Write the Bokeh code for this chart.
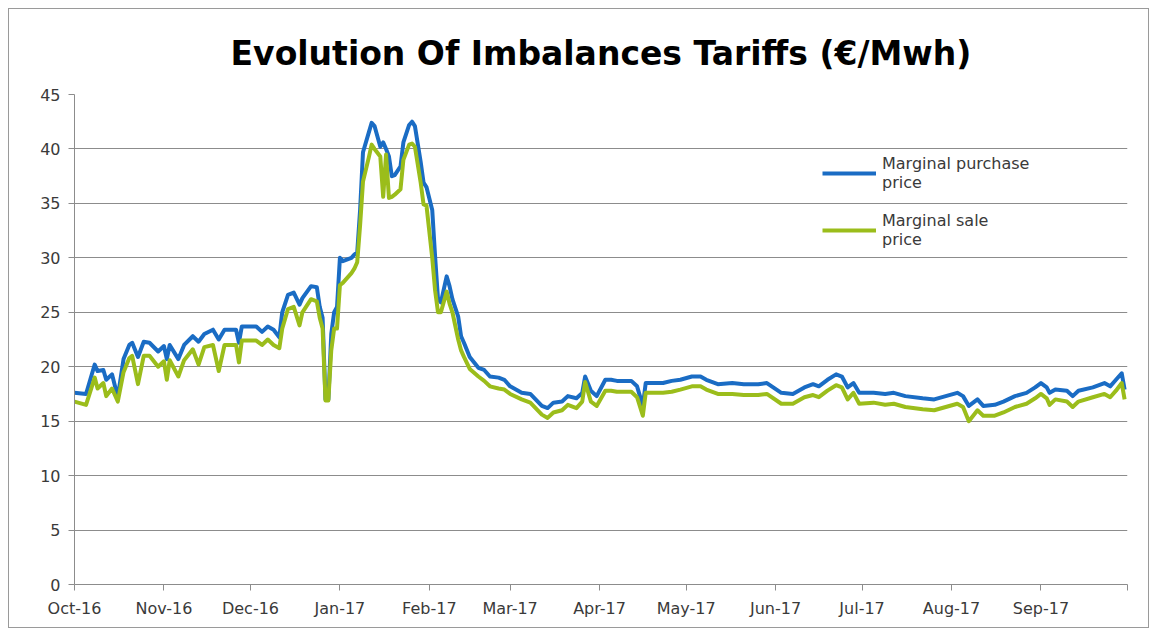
import pandas as pd
from bokeh.plotting import figure
from bokeh.models import FixedTicker, Range1d, Legend, LegendItem, ColumnDataSource
from bokeh.embed import file_html
from bokeh.resources import INLINE

# ---------------- data ----------------
start_date = "2016-10-01"
day_offset = [0, 4, 7, 8, 10, 11, 13, 15, 17, 19, 20, 22, 24, 26, 29, 31, 32, 33, 36, 38,
              41, 43, 45, 48, 50, 52, 56, 57, 58, 63, 65, 67, 69, 71, 72, 74, 76, 78, 79, 82,
              84, 85, 86, 87, 88, 89, 90, 91, 92, 93, 96, 97, 98, 99, 100, 102, 103, 104, 106, 107,
              108, 109, 110, 111, 113, 114, 116, 117, 118, 120, 121, 122, 124, 125, 126, 127, 129, 130, 131, 133,
              134, 135, 137, 140, 142, 144, 147, 149, 151, 155, 158, 162, 164, 166, 169, 171, 174, 176, 177, 179,
              181, 184, 186, 188, 193, 195, 197, 198, 204, 207, 210, 214, 217, 219, 223, 228, 232, 237, 240, 245,
              249, 253, 256, 258, 261, 264, 266, 268, 270, 272, 277, 281, 284, 288, 294, 298, 302, 306, 308, 310,
              313, 315, 319, 322, 326, 330, 333, 335, 337, 338, 340, 344, 346, 348, 353, 357, 359, 361, 363, 364]

purchase = [17.6, 17.5, 20.2, 19.6, 19.7, 18.8, 19.3, 17.2, 20.7, 22.0, 22.2, 20.9, 22.3, 22.2, 21.4, 21.9, 20.7, 22.0, 20.7, 22.0,
            22.8, 22.3, 23.0, 23.4, 22.5, 23.4, 23.4, 22.2, 23.7, 23.7, 23.2, 23.7, 23.4, 22.7, 25.0, 26.6, 26.8, 25.7, 26.3, 27.4,
            27.3, 25.5, 24.5, 17.0, 17.0, 23.0, 25.0, 25.5, 30.0, 29.7, 30.0, 30.3, 30.5, 34.4, 39.7, 41.5, 42.4, 42.1, 40.2, 40.6,
            40.0, 39.3, 37.5, 37.6, 38.4, 40.6, 42.2, 42.5, 42.1, 38.8, 36.9, 36.5, 34.4, 30.1, 26.2, 25.9, 28.3, 27.4, 26.2, 24.6,
            22.8, 22.2, 20.9, 19.9, 19.7, 19.1, 19.0, 18.8, 18.2, 17.6, 17.5, 16.4, 16.2, 16.7, 16.8, 17.3, 17.1, 17.6, 19.1, 17.8,
            17.3, 18.8, 18.8, 18.7, 18.7, 18.2, 16.4, 18.5, 18.5, 18.7, 18.8, 19.1, 19.1, 18.8, 18.4, 18.5, 18.4, 18.4, 18.5, 17.6,
            17.5, 18.1, 18.4, 18.2, 18.8, 19.3, 19.1, 18.1, 18.5, 17.6, 17.6, 17.5, 17.6, 17.3, 17.1, 17.0, 17.3, 17.6, 17.3, 16.4,
            17.0, 16.4, 16.5, 16.8, 17.3, 17.6, 18.1, 18.5, 18.1, 17.6, 17.9, 17.8, 17.3, 17.8, 18.1, 18.5, 18.2, 18.8, 19.4, 17.9]

sale = [16.8, 16.5, 19.0, 18.0, 18.5, 17.3, 18.0, 16.8, 19.5, 20.8, 21.0, 18.4, 21.0, 21.0, 20.0, 20.5, 18.8, 20.6, 19.1, 20.6,
        21.6, 20.2, 21.8, 22.0, 19.6, 22.0, 22.0, 20.4, 22.4, 22.4, 22.0, 22.5, 22.0, 21.7, 23.5, 25.3, 25.5, 23.8, 25.0, 26.2,
        26.0, 24.5, 23.5, 16.9, 16.9, 21.5, 23.5, 23.5, 27.5, 27.7, 28.6, 29.0, 29.6, 33.0, 37.0, 39.2, 40.4, 40.0, 39.3, 35.6,
        39.5, 35.5, 35.6, 35.8, 36.3, 39.0, 40.4, 40.5, 40.2, 36.9, 34.9, 34.8, 30.0, 27.0, 25.0, 25.0, 26.9, 25.8, 25.0, 22.5,
        21.5, 20.9, 19.8, 19.1, 18.7, 18.2, 18.0, 17.9, 17.5, 17.0, 16.7, 15.6, 15.3, 15.8, 16.0, 16.5, 16.2, 16.8, 18.6, 16.8,
        16.4, 17.8, 17.8, 17.7, 17.7, 17.2, 15.5, 17.6, 17.6, 17.7, 17.9, 18.2, 18.2, 17.9, 17.5, 17.5, 17.4, 17.4, 17.5, 16.6,
        16.6, 17.2, 17.4, 17.2, 17.8, 18.3, 18.1, 17.0, 17.6, 16.6, 16.7, 16.5, 16.6, 16.3, 16.1, 16.0, 16.3, 16.6, 16.3, 15.0,
        16.0, 15.5, 15.5, 15.8, 16.3, 16.6, 17.1, 17.5, 17.1, 16.5, 17.0, 16.8, 16.3, 16.8, 17.2, 17.5, 17.2, 17.8, 18.5, 17.0]

month_labels = ["Oct-16", "Nov-16", "Dec-16", "Jan-17", "Feb-17", "Mar-17",
                "Apr-17", "May-17", "Jun-17", "Jul-17", "Aug-17", "Sep-17"]
y_ticks = [0, 5, 10, 15, 20, 25, 30, 35, 40, 45]

title_text = "Evolution Of Imbalances Tariffs (\u20ac/Mwh)"
series_names = ["Marginal purchase\nprice", "Marginal sale\nprice"]

# ---------------- build ----------------
start = pd.Timestamp(start_date)
month_starts = pd.date_range(start, periods=13, freq="MS")
tick_days = [int((d - start).days) for d in month_starts]
overrides = {t: lab for t, lab in zip(tick_days, month_labels + [""])}

src = ColumnDataSource(dict(x=day_offset, purchase=purchase, sale=sale))

FONT = "DejaVu Sans"
TXT = "#3a3a3a"
GRID = "#8c8c8c"

p = figure(width=1141, height=620, output_backend="svg", toolbar_location=None,
           x_range=Range1d(0, tick_days[-1]), y_range=Range1d(0, 45),
           min_border_left=65, min_border_right=23, min_border_top=85, min_border_bottom=45,
           background_fill_color="white", border_fill_color="white")
p.styles = {"border": "1px solid #9a9a9a", "box-sizing": "border-box",
            "margin-left": "8px", "margin-top": "8px"}

p.title.text = title_text
p.title.align = "center"
p.title.text_font = FONT
p.title.text_font_size = "33px"
p.title.text_font_style = "bold"
p.title.text_color = "black"
p.title.standoff = 43

p.outline_line_color = None
p.xgrid.grid_line_color = None
p.ygrid.grid_line_color = GRID
p.ygrid.grid_line_width = 1

p.yaxis.ticker = FixedTicker(ticks=y_ticks)
p.xaxis.ticker = FixedTicker(ticks=tick_days)
p.xaxis.major_label_overrides = overrides
for ax in (p.xaxis[0], p.yaxis[0]):
    ax.axis_line_color = GRID
    ax.major_tick_line_color = GRID
    ax.major_tick_out = 6
    ax.major_tick_in = 0
    ax.minor_tick_line_color = None
    ax.major_label_text_font = FONT
    ax.major_label_text_font_size = "16px"
    ax.major_label_text_color = TXT
p.xaxis.major_label_standoff = 8
p.yaxis.major_label_standoff = 8

r1 = p.line("x", "purchase", source=src, line_color="#1a6cc4", line_width=4, line_join="round")
r2 = p.line("x", "sale", source=src, line_color="#9bbd1b", line_width=4, line_join="round")

legend = Legend(items=[LegendItem(label=series_names[0], renderers=[r1]),
                       LegendItem(label=series_names[1], renderers=[r2])],
                location=(748, 335), border_line_color=None, background_fill_alpha=0,
                label_text_font=FONT, label_text_font_size="16px", label_text_color=TXT,
                glyph_width=54, glyph_height=20, label_standoff=6, spacing=19,
                padding=0, margin=0)
p.add_layout(legend)

open("out.html", "w").write(file_html(p, INLINE))
